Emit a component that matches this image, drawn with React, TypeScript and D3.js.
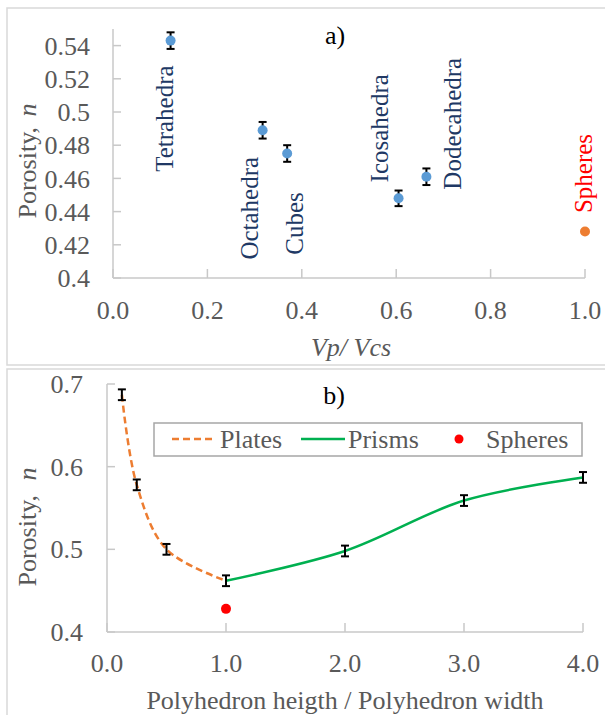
import * as d3 from 'd3'

const W = 605
const H = 715
const SERIF = 'Liberation Serif'
const GRAY_TEXT = '#595959'
const AXIS = '#c8c8c8'
const NAVY = '#203864'
const FS = 26

// Panel a) data
const shapes = ['Tetrahedra', 'Octahedra', 'Cubes', 'Icosahedra', 'Dodecahedra']
const shapeVp = [0.122, 0.317, 0.369, 0.605, 0.664]
const shapePorosity = [0.543, 0.489, 0.475, 0.448, 0.461]
const shapeErr = [0.005, 0.005, 0.005, 0.0047, 0.005]
const sphereVp = 1.0
const spherePorosityA = 0.428
const aXTicks = [0, 0.2, 0.4, 0.6, 0.8, 1.0]
const aYTicks = [0.4, 0.42, 0.44, 0.46, 0.48, 0.5, 0.52, 0.54]

// label offsets (px) from the data point: [dx, dy] of label centre
const labelOffsets: [number, number][] = [
  [-6, 78],
  [-13, 78],
  [7, 70],
  [-19, -70],
  [26, -53],
]

// Panel b) data
const platesX = [0.125, 0.25, 0.5, 1.0]
const platesY = [0.687, 0.578, 0.5, 0.462]
const prismsX = [1.0, 2.0, 3.0, 4.0]
const prismsY = [0.462, 0.498, 0.559, 0.587]
const bErr = 0.0065
const sphereRatio = 1.0
const spherePorosityB = 0.428
const bXTicks = [0, 1, 2, 3, 4]
const bYTicks = [0.4, 0.5, 0.6, 0.7]

function ErrorBar({ x, y0, y1 }: { x: number; y0: number; y1: number }) {
  return (
    <g stroke="#000" strokeWidth={2}>
      <line x1={x} x2={x} y1={y0} y2={y1} />
      <line x1={x - 4} x2={x + 4} y1={y0} y2={y0} />
      <line x1={x - 4} x2={x + 4} y1={y1} y2={y1} />
    </g>
  )
}

function PanelA() {
  const x = d3.scaleLinear().domain([0, 1]).range([113, 585])
  const y = d3.scaleLinear().domain([0.4, 0.55]).range([278, 29])
  return (
    <g>
      <rect x={7} y={8} width={W} height={357} fill="#fff" stroke="#d9d9d9" strokeWidth={1.5} />
      {/* axes */}
      <line x1={x(0)} x2={x(0)} y1={y(0.55)} y2={y(0.4)} stroke={AXIS} strokeWidth={1.5} />
      <line x1={x(0)} x2={x(1)} y1={y(0.4)} y2={y(0.4)} stroke={AXIS} strokeWidth={1.5} />
      {aYTicks.map(t => (
        <g key={`ay${t}`}>
          <line x1={x(0)} x2={x(0) + 8} y1={y(t)} y2={y(t)} stroke={AXIS} strokeWidth={1.5} />
          <text x={90} y={y(t)} dy="0.35em" textAnchor="end" fontFamily={SERIF} fontSize={FS} fill={GRAY_TEXT}>
            {t === 0.4 || t === 0.5 ? t.toFixed(1) : t.toFixed(2)}
          </text>
        </g>
      ))}
      {aXTicks.map(t => (
        <g key={`ax${t}`}>
          <line x1={x(t)} x2={x(t)} y1={y(0.4)} y2={y(0.4) - 9} stroke={AXIS} strokeWidth={1.5} />
          <text x={x(t)} y={310} dy="0.35em" textAnchor="middle" fontFamily={SERIF} fontSize={FS} fill={GRAY_TEXT}>
            {t.toFixed(1)}
          </text>
        </g>
      ))}
      <text transform={`translate(27,161) rotate(-90)`} textAnchor="middle" dy="0.35em" fontFamily={SERIF} fontSize={FS} fill={GRAY_TEXT}>
        Porosity, <tspan fontStyle="italic" dx={4}>n</tspan>
      </text>
      <text x={351} y={347} dy="0.35em" textAnchor="middle" fontFamily={SERIF} fontSize={FS} fontStyle="italic" fill={GRAY_TEXT}>
        Vp/ Vcs
      </text>
      <text x={335} y={35} dy="0.35em" textAnchor="middle" fontFamily={SERIF} fontSize={FS} fill="#000">a)</text>

      {shapes.map((s, i) => {
        const px = x(shapeVp[i])
        const py = y(shapePorosity[i])
        const [dx, dy] = labelOffsets[i]
        return (
          <g key={s}>
            <ErrorBar x={px} y0={y(shapePorosity[i] + shapeErr[i])} y1={y(shapePorosity[i] - shapeErr[i])} />
            <circle cx={px} cy={py} r={5} fill="#5b9bd5" />
            <text
              transform={`translate(${px + dx},${py + dy}) rotate(-90)`}
              textAnchor="middle"
              dy="0.35em"
              fontFamily={SERIF}
              fontSize={25}
              fill={NAVY}
            >
              {s}
            </text>
          </g>
        )
      })}
      <circle cx={x(sphereVp)} cy={y(spherePorosityA)} r={5} fill="#ed7d31" />
      <text
        transform={`translate(${x(sphereVp) - 2},${y(spherePorosityA) - 58}) rotate(-90)`}
        textAnchor="middle"
        dy="0.35em"
        fontFamily={SERIF}
        fontSize={25}
        fill="#ff0000"
      >
        Spheres
      </text>
    </g>
  )
}

function PanelB() {
  const x = d3.scaleLinear().domain([0, 4]).range([107, 583])
  const y = d3.scaleLinear().domain([0.4, 0.7]).range([632, 384])
  const line = d3.line<[number, number]>()
    .x(d => x(d[0]))
    .y(d => y(d[1]))
    .curve(d3.curveCatmullRom.alpha(0.5))
  const plates = platesX.map((v, i) => [v, platesY[i]] as [number, number])
  const prisms = prismsX.map((v, i) => [v, prismsY[i]] as [number, number])
  return (
    <g>
      <rect x={7} y={369} width={W} height={H} fill="#fff" stroke="#d9d9d9" strokeWidth={1.5} />
      <line x1={x(0)} x2={x(0)} y1={y(0.7)} y2={y(0.4)} stroke={AXIS} strokeWidth={1.5} />
      <line x1={x(0)} x2={x(4)} y1={y(0.4)} y2={y(0.4)} stroke={AXIS} strokeWidth={1.5} />
      {bYTicks.map(t => (
        <g key={`by${t}`}>
          <line x1={x(0)} x2={x(0) + 8} y1={y(t)} y2={y(t)} stroke={AXIS} strokeWidth={1.5} />
          <text x={83} y={y(t)} dy="0.35em" textAnchor="end" fontFamily={SERIF} fontSize={FS} fill={GRAY_TEXT}>
            {t.toFixed(1)}
          </text>
        </g>
      ))}
      {bXTicks.map(t => (
        <g key={`bx${t}`}>
          <line x1={x(t)} x2={x(t)} y1={y(0.4)} y2={y(0.4) - 9} stroke={AXIS} strokeWidth={1.5} />
          <text x={x(t)} y={663} dy="0.35em" textAnchor="middle" fontFamily={SERIF} fontSize={FS} fill={GRAY_TEXT}>
            {t.toFixed(1)}
          </text>
        </g>
      ))}
      <text transform={`translate(27,527) rotate(-90)`} textAnchor="middle" dy="0.35em" fontFamily={SERIF} fontSize={FS} fill={GRAY_TEXT}>
        Porosity, <tspan fontStyle="italic" dx={8}>n</tspan>
      </text>
      <text x={345} y={700} dy="0.35em" textAnchor="middle" fontFamily={SERIF} fontSize={FS} fill={GRAY_TEXT}>
        Polyhedron heigth / Polyhedron width
      </text>
      <text x={334} y={395} dy="0.35em" textAnchor="middle" fontFamily={SERIF} fontSize={FS} fill="#000">b)</text>

      <path d={line(plates) ?? ''} fill="none" stroke="#ed7d31" strokeWidth={2.5} strokeDasharray="7,4" />
      <path d={line(prisms) ?? ''} fill="none" stroke="#00b050" strokeWidth={2.5} />
      {plates.concat(prisms.slice(1)).map((d, i) => (
        <ErrorBar key={`eb${i}`} x={x(d[0])} y0={y(d[1] + bErr)} y1={y(d[1] - bErr)} />
      ))}
      <circle cx={x(sphereRatio)} cy={y(spherePorosityB)} r={5} fill="#ff0000" />

      {/* legend */}
      <rect x={154} y={423} width={428} height={33} fill="#fff" stroke="#a6a6a6" strokeWidth={1.5} />
      <line x1={172} x2={216} y1={439} y2={439} stroke="#ed7d31" strokeWidth={2.5} strokeDasharray="7,4" />
      <text x={220} y={439} dy="0.35em" fontFamily={SERIF} fontSize={FS} fill={GRAY_TEXT}>Plates</text>
      <line x1={301} x2={345} y1={439} y2={439} stroke="#00b050" strokeWidth={2.5} />
      <text x={348} y={439} dy="0.35em" fontFamily={SERIF} fontSize={FS} fill={GRAY_TEXT}>Prisms</text>
      <circle cx={459} cy={439} r={4.5} fill="#ff0000" />
      <text x={486} y={439} dy="0.35em" fontFamily={SERIF} fontSize={FS} fill={GRAY_TEXT}>Spheres</text>
    </g>
  )
}

export default function App() {
  return (
    <svg
      width={W}
      height={H}
      fontFamily={SERIF}
      style={{ position: 'absolute', left: 0, top: 0, background: '#fff' }}
    >
      <rect width={W} height={H} fill="#fff" />
      <PanelA />
      <PanelB />
    </svg>
  )
}
